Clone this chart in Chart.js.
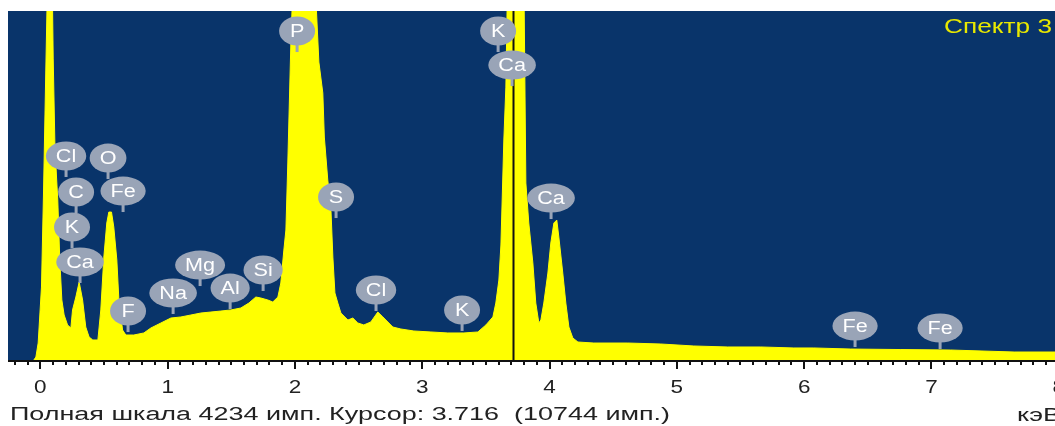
<!DOCTYPE html>
<html>
<head>
<meta charset="utf-8">
<script src="https://cdn.jsdelivr.net/npm/chart.js@4.4.1/dist/chart.umd.min.js"></script>
<style>
  html, body { margin: 0; padding: 0; background: #fff; overflow: hidden; }
  #wrap { width: 1080px; height: 426px; }
</style>
</head>
<body>
<div id="wrap"><canvas id="spectrum" width="1080" height="426"></canvas></div>
<script>
// spectrum (keV / counts)
const energy = [
  -0.051, -0.035, -0.017, 0.009, 0.025, 0.043, 0.064, 0.082, 0.101, 0.114,
  0.127, 0.137, 0.153, 0.169, 0.187, 0.214, 0.240, 0.253, 0.279, 0.305,
  0.332, 0.357, 0.383, 0.412, 0.452, 0.475, 0.499, 0.522, 0.538, 0.559,
  0.577, 0.601, 0.617, 0.646, 0.672, 0.734, 0.813, 0.868, 0.947, 1.025,
  1.104, 1.183, 1.261, 1.340, 1.418, 1.497, 1.575, 1.638, 1.693, 1.732,
  1.787, 1.826, 1.866, 1.889, 1.913, 1.929, 1.944, 1.968, 1.983, 2.046,
  2.109, 2.164, 2.188, 2.219, 2.231, 2.258, 2.282, 2.298, 2.314, 2.337,
  2.361, 2.416, 2.455, 2.494, 2.541, 2.596, 2.651, 2.691, 2.730, 2.769,
  2.832, 2.934, 3.068, 3.201, 3.327, 3.437, 3.500, 3.555, 3.578, 3.602,
  3.618, 3.641, 3.657, 3.672, 3.716, 3.790, 3.814, 3.837, 3.869, 3.892,
  3.916, 3.932, 3.955, 3.987, 4.010, 4.034, 4.057, 4.073, 4.104, 4.128,
  4.152, 4.183, 4.223, 4.348, 4.615, 4.874, 5.133, 5.400, 5.660, 5.919,
  6.076, 6.366, 6.760, 7.150, 7.650, 8.200
];
const counts = [
  0, 36, 206, 885, 2038, 3518, 5200, 6000, 3663, 2644,
  2220, 1941, 1213, 728, 546, 425, 388, 607, 764, 946,
  728, 400, 279, 243, 243, 607, 1249, 1662, 1795, 1795,
  1613, 1213, 728, 364, 303, 303, 328, 388, 449, 509,
  522, 546, 570, 582, 594, 607, 631, 691, 764, 752,
  728, 704, 764, 934, 1334, 1577, 2390, 3845, 4500, 5200,
  5000, 4400, 3615, 3239, 2705, 2183, 1856, 1249, 813, 691,
  570, 485, 509, 449, 425, 461, 582, 522, 461, 400,
  376, 352, 340, 328, 328, 340, 425, 522, 691, 970,
  1395, 2669, 3311, 4800, 10744, 6000, 2147, 1662, 1177, 691,
  449, 485, 691, 1055, 1419, 1662, 1698, 1492, 1055, 691,
  400, 267, 218, 206, 206, 194, 170, 158, 158, 146,
  146, 133, 127, 121, 97, 97
];

// element markers: badge centre (keV, counts)
const peakNames  = ['Cl', 'O', 'C', 'Fe', 'K', 'Ca', 'F', 'Na', 'Mg', 'Al', 'Si', 'P', 'S', 'Cl', 'K', 'K', 'Ca', 'Ca', 'Fe', 'Fe'];
const peakEnergy = [0.202, 0.532, 0.281, 0.650, 0.249, 0.312, 0.689, 1.043, 1.255, 1.491, 1.750, 2.017, 2.323, 2.637, 3.313, 3.596, 3.706, 4.012, 6.400, 7.068];
const peakLevel  = [2475, 2450, 2038, 2050, 1613, 1189, 594, 813, 1152, 873, 1092, 3991, 1977, 849, 607, 3991, 3578, 1965, 412, 388];

const xTicks = [0, 1, 2, 3, 4, 5, 6, 7, 8];
const fullScale = 4234;
const cursorEnergy = 3.716;
const cursorCounts = 10744;
const spectrumName = 'Спектр 3';
const unitLabel = 'кэВ';

const NAVY = '#09346a';
const YELLOW = '#ffff00';
const BADGE = '#99a4b7';
const FONT = '"Liberation Sans", Arial, sans-serif';

function stretchedText(ctx, text, x, y, size, sx, align) {
  ctx.save();
  ctx.font = size + 'px ' + FONT;
  const w = ctx.measureText(text).width * sx;
  let left = x;
  if (align === 'center') left = x - w / 2;
  if (align === 'right') left = x - w;
  ctx.translate(left, y);
  ctx.scale(sx, 1);
  ctx.textAlign = 'left';
  ctx.fillText(text, 0, 0);
  ctx.restore();
}

function fitText(ctx, text, x, y, size, width) {
  ctx.save();
  ctx.font = size + 'px ' + FONT;
  const sx = width / ctx.measureText(text).width;
  ctx.translate(x, y);
  ctx.scale(sx, 1);
  ctx.fillText(text, 0, 0);
  ctx.restore();
}

const decor = {
  id: 'decor',
  beforeDraw(chart) {
    const { ctx, chartArea: a } = chart;
    ctx.save();
    ctx.fillStyle = '#fff';
    ctx.fillRect(0, 0, chart.width, chart.height);
    ctx.fillStyle = NAVY;
    ctx.fillRect(a.left, a.top, a.right - a.left, a.bottom - a.top);
    ctx.restore();
  },
  afterDatasetsDraw(chart) {
    const { ctx, chartArea: a } = chart;
    const xs = chart.scales.x, ys = chart.scales.y;
    ctx.save();

    // cursor
    const cx = Math.round(xs.getPixelForValue(cursorEnergy)) + 0.5;
    ctx.strokeStyle = '#111';
    ctx.lineWidth = 2;
    ctx.beginPath();
    ctx.moveTo(cx, a.top);
    ctx.lineTo(cx, a.bottom);
    ctx.stroke();

    // element badges
    ctx.textBaseline = 'middle';
    peakNames.forEach((name, i) => {
      const px = xs.getPixelForValue(peakEnergy[i]);
      const py = ys.getPixelForValue(peakLevel[i]);
      ctx.font = '18px ' + FONT;
      const tw = ctx.measureText(name).width * 1.2;
      const rx = Math.max(18, tw / 2 + 10);
      ctx.fillStyle = BADGE;
      ctx.fillRect(px - 1.5, py + 10, 3, 11);
      ctx.beginPath();
      ctx.ellipse(px, py, rx, 14.5, 0, 0, Math.PI * 2);
      ctx.fill();
      ctx.fillStyle = '#fff';
      stretchedText(ctx, name, px, py + 1, 18, 1.2, 'center');
    });

    // axis line and ticks
    ctx.fillStyle = '#111';
    ctx.fillRect(a.left, a.bottom, a.right - a.left, 2);
    for (let t = -2; t <= 81; t++) {
      const v = t / 10;
      const tx = Math.round(xs.getPixelForValue(v));
      const major = t % 10 === 0;
      ctx.fillRect(tx - 1, a.bottom + 2, 2, major ? 7 : 3);
    }
    ctx.fillStyle = '#222';
    ctx.textBaseline = 'alphabetic';
    xTicks.forEach(v => {
      stretchedText(ctx, String(v), xs.getPixelForValue(v), a.bottom + 33, 18, 1.25, 'center');
    });

    // captions
    fitText(ctx, 'Полная шкала ' + fullScale + ' имп. Курсор: ' + cursorEnergy.toFixed(3) + '  (' + cursorCounts + ' имп.)', 10, 420, 18, 660);
    fitText(ctx, unitLabel, 1017, 421, 18, 44);
    ctx.fillStyle = '#e8e800';
    fitText(ctx, spectrumName, 944, 33, 20, 108);
    ctx.restore();
  }
};

new Chart(document.getElementById('spectrum'), {
  type: 'line',
  data: {
    datasets: [{
      data: energy.map((e, i) => ({ x: e, y: counts[i] })),
      borderColor: YELLOW,
      backgroundColor: YELLOW,
      borderWidth: 1,
      fill: 'origin',
      tension: 0,
      pointRadius: 0
    }]
  },
  options: {
    responsive: false,
    animation: false,
    layout: { padding: { left: 8, top: 11, right: 0, bottom: 66 } },
    plugins: { legend: { display: false }, tooltip: { enabled: false } },
    scales: {
      x: { type: 'linear', min: -0.254, max: 8.167, display: false },
      y: { min: 0, max: fullScale, display: false }
    }
  },
  plugins: [decor]
});
</script>
</body>
</html>
